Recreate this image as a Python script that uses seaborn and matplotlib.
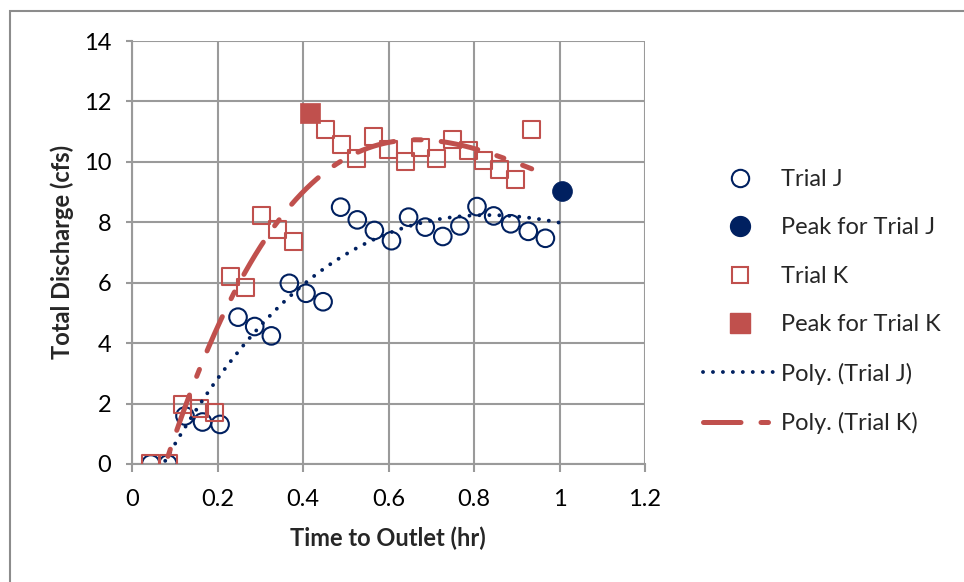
import numpy as np
import pandas as pd
import matplotlib
matplotlib.use("Agg")
import matplotlib.pyplot as plt
import seaborn as sns
from matplotlib.lines import Line2D
from matplotlib.patches import Rectangle

# ---------------- data ----------------
trial_j_x = [0.044, 0.084, 0.124, 0.165, 0.206, 0.248, 0.287, 0.326, 0.368, 0.407,
             0.447, 0.488, 0.527, 0.567, 0.607, 0.647, 0.686, 0.727, 0.767, 0.807,
             0.846, 0.886, 0.927, 0.967]
trial_j_y = [0.0, 0.0, 1.59, 1.39, 1.31, 4.86, 4.55, 4.24, 5.98, 5.65,
             5.37, 8.50, 8.08, 7.73, 7.39, 8.17, 7.84, 7.53, 7.88, 8.52,
             8.21, 7.95, 7.70, 7.47]
peak_j_x = [1.007]
peak_j_y = [9.04]

trial_k_x = [0.044, 0.085, 0.118, 0.157, 0.194, 0.231, 0.266, 0.304, 0.340, 0.377,
             0.453, 0.489, 0.526, 0.564, 0.601, 0.639, 0.674, 0.712, 0.749, 0.786,
             0.823, 0.860, 0.897, 0.935]
trial_k_y = [0.0, 0.0, 1.96, 1.84, 1.70, 6.22, 5.85, 8.22, 7.77, 7.36,
             11.08, 10.56, 10.10, 10.84, 10.40, 10.01, 10.49, 10.12, 10.73, 10.37,
             10.04, 9.74, 9.43, 11.06]
peak_k_x = [0.416]
peak_k_y = [11.61]

x_ticks = [0, 0.2, 0.4, 0.6, 0.8, 1.0, 1.2]
x_tick_labels = ["0", "0.2", "0.4", "0.6", "0.8", "1", "1.2"]
y_ticks = [0, 2, 4, 6, 8, 10, 12, 14]
y_tick_labels = ["0", "2", "4", "6", "8", "10", "12", "14"]

x_label = "Time to Outlet (hr)"
y_label = "Total Discharge (cfs)"
legend_labels = ["Trial J", "Peak for Trial J", "Trial K", "Peak for Trial K",
                 "Poly. (Trial J)", "Poly. (Trial K)"]

J_COLOR = "#002060"
K_COLOR = "#C0504D"
GRID = "#9A9A9A"
POLY_ORDER = 3

# ---------------- style ----------------
sns.set_theme(style="white")
plt.rcParams['font.family'] = ['Lato', 'DejaVu Sans']

W, H = 964, 582
fig = plt.figure(figsize=(W / 100, H / 100), dpi=100)
fig.patch.set_facecolor("white")

# outer chart border
fig.patches.append(Rectangle((10 / W, -0.05), 1.1, 1 - 10.5 / H + 0.05,
                             transform=fig.transFigure, fill=False,
                             edgecolor="#8C8C8C", linewidth=1.5, zorder=0))

x0, x1, yt, yb = 132, 645, 41, 464
ax = fig.add_axes([x0 / W, 1 - yb / H, (x1 - x0) / W, (yb - yt) / H])

# combined series (peaks included in trend, as in the original spreadsheet)
jx_all = np.array(trial_j_x + peak_j_x)
jy_all = np.array(trial_j_y + peak_j_y)
kx_all = np.array(trial_k_x + peak_k_x)
ky_all = np.array(trial_k_y + peak_k_y)

df_j = pd.DataFrame({"x": trial_j_x, "y": trial_j_y})
df_k = pd.DataFrame({"x": trial_k_x, "y": trial_k_y})

sns.scatterplot(data=df_j, x="x", y="y", ax=ax, marker="o", s=160,
                facecolor="none", edgecolor=J_COLOR, linewidth=1.5, zorder=3)
sns.scatterplot(x=peak_j_x, y=peak_j_y, ax=ax, marker="o", s=205,
                color=J_COLOR, edgecolor=J_COLOR, linewidth=0.5, zorder=3)
sns.scatterplot(data=df_k, x="x", y="y", ax=ax, marker="s", s=150,
                facecolor="none", edgecolor=K_COLOR, linewidth=1.5, zorder=4)
sns.scatterplot(x=peak_k_x, y=peak_k_y, ax=ax, marker="s", s=205,
                color=K_COLOR, edgecolor=K_COLOR, linewidth=0.5, zorder=4)

# polynomial trendlines
gj = np.linspace(jx_all.min(), jx_all.max(), 300)
fj = np.polyval(np.polyfit(jx_all, jy_all, POLY_ORDER), gj)
gk = np.linspace(kx_all.min(), kx_all.max(), 300)
fk = np.polyval(np.polyfit(kx_all, ky_all, POLY_ORDER), gk)

J_LW, J_DASH = 2.8, (0.01, 2.55)
K_LW, K_DASH = 3.6, (7.5, 4, 1.5, 4)

n0 = len(ax.lines)
sns.lineplot(x=gj, y=fj, ax=ax, color=J_COLOR, linewidth=J_LW, sort=False,
             estimator=None, zorder=5)
lj = ax.lines[n0]
lj.set_dashes(J_DASH)
lj.set_dash_capstyle("round")

sns.lineplot(x=gk, y=fk, ax=ax, color=K_COLOR, linewidth=K_LW, sort=False,
             estimator=None, zorder=6)
lk = ax.lines[n0 + 1]
lk.set_dashes(K_DASH)
lk.set_dash_capstyle("round")

# axes
ax.set_xlim(0, 1.2)
ax.set_ylim(0, 14)
ax.set_xticks(x_ticks)
ax.set_xticklabels(x_tick_labels)
ax.set_yticks(y_ticks)
ax.set_yticklabels(y_tick_labels)
ax.grid(True, color=GRID, linewidth=1.5)
ax.set_axisbelow(True)
for s in ax.spines.values():
    s.set_visible(False)
ax.spines["left"].set_visible(True)
ax.spines["bottom"].set_visible(True)
ax.spines["left"].set_color(GRID)
ax.spines["bottom"].set_color(GRID)
ax.spines["left"].set_linewidth(1.5)
ax.spines["bottom"].set_linewidth(1.5)
ax.tick_params(axis="x", direction="out", length=6, width=1.5, color=GRID,
               pad=12, labelsize=17, labelcolor="black", bottom=True)
ax.tick_params(axis="y", direction="out", length=4, width=1.5, color=GRID,
               pad=11, labelsize=17, labelcolor="black", left=True)
ax.set_xlabel("")
ax.set_ylabel("")
fig.text(388 / W, 1 - 538 / H, x_label, ha="center", va="center",
         fontsize=17, fontweight="bold")
fig.text(62 / W, 1 - 252 / H, y_label, ha="center", va="center",
         rotation=90, fontsize=17, fontweight="bold")
if ax.get_legend() is not None:
    ax.get_legend().remove()

handles = [
    Line2D([], [], linestyle="none", marker="o", markersize=12.5,
           markerfacecolor="none", markeredgecolor=J_COLOR, markeredgewidth=1.5),
    Line2D([], [], linestyle="none", marker="o", markersize=14.3,
           markerfacecolor=J_COLOR, markeredgecolor=J_COLOR),
    Line2D([], [], linestyle="none", marker="s", markersize=12.2,
           markerfacecolor="none", markeredgecolor=K_COLOR, markeredgewidth=1.5),
    Line2D([], [], linestyle="none", marker="s", markersize=14.3,
           markerfacecolor=K_COLOR, markeredgecolor=K_COLOR),
    Line2D([], [], color=J_COLOR, linewidth=J_LW, dashes=J_DASH,
           dash_capstyle="round"),
    Line2D([], [], color=K_COLOR, linewidth=K_LW, dashes=K_DASH,
           dash_capstyle="round"),
]
leg = fig.legend(handles, legend_labels, loc="upper left",
                 bbox_to_anchor=(703 / W, 1 - 169 / H),
                 bbox_transform=fig.transFigure, frameon=False,
                 fontsize=17, handlelength=3.1, handletextpad=0.2,
                 labelspacing=1.16, borderpad=0, borderaxespad=0)

fig.savefig("out.png", dpi=100, facecolor="white")
